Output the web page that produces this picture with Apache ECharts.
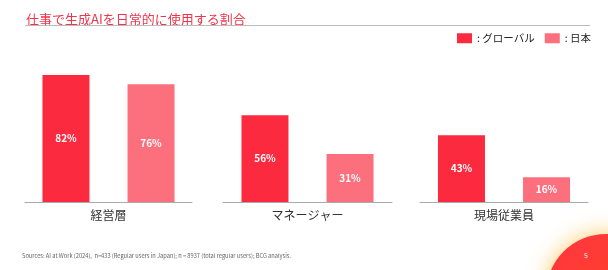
<!DOCTYPE html>
<html><head><meta charset="utf-8">
<script src="https://cdn.jsdelivr.net/npm/echarts@6/dist/echarts.min.js"></script>
<style>html,body{margin:0;padding:0;background:#fff}#c{width:608px;height:270px}</style>
</head><body><div id="c"></div>
<script>
const categories = ['経営層', 'マネージャー', '現場従業員'];
const globalValues = [82, 56, 43];
const japanValues = [76, 31, 16];
const seriesNames = [': グローバル', ': 日本'];
const colors = ['#FC2A3E', '#FC6F7C'];

const FONT = '"Noto Sans CJK JP", "Noto Sans", sans-serif';
const gridLefts = [25, 223, 420];
const gridWidths = [167, 169, 168];

const grids = [], xAxes = [], yAxes = [], series = [];
categories.forEach((cat, i) => {
  grids.push({left: gridLefts[i], width: gridWidths[i], top: 47, bottom: 68});
  xAxes.push({
    type: 'category', gridIndex: i, data: [cat],
    axisLine: {lineStyle: {color: '#aaaaaa', width: 1}},
    axisTick: {show: false},
    axisLabel: {color: '#333', fontSize: 12, margin: 7, fontFamily: FONT}
  });
  yAxes.push({type: 'value', gridIndex: i, min: 0, max: 100, show: false, splitLine: {show: false}});
  [globalValues, japanValues].forEach((vals, k) => {
    series.push({
      type: 'bar', name: seriesNames[k], xAxisIndex: i, yAxisIndex: i,
      data: [vals[i]], barWidth: 47, barGap: '81%',
      itemStyle: {color: colors[k]},
      label: {show: true, position: 'inside', color: '#fff', fontSize: 10, fontWeight: 'bold',
              fontFamily: FONT, formatter: p => p.value + '%'}
    });
  });
});

const chart = echarts.init(document.getElementById('c'), null, {renderer: 'canvas'});
chart.setOption({
  animation: false,
  color: colors,
  title: {text: '仕事で生成AIを日常的に使用する割合', left: 21, top: 8,
          textStyle: {color: '#F0344A', fontSize: 13, fontWeight: 'normal', fontFamily: FONT}},
  legend: {data: seriesNames, orient: 'horizontal', left: 452, top: 28, width: 160,
           itemWidth: 15, itemHeight: 10, itemGap: 10,
           icon: 'rect', textStyle: {color: '#222', fontSize: 10.5, fontFamily: FONT}},
  grid: grids, xAxis: xAxes, yAxis: yAxes, series: series,
  graphic: [
    {type: 'rect', z: 10, shape: {x: 25, y: 25, width: 565, height: 1}, style: {fill: '#bbbbbb'}},
    {type: 'circle', z: 1, shape: {cx: 606, cy: 294, r: 60},
     style: {fill: {type: 'linear', x: 0, y: 0, x2: 1, y2: 1,
                    colorStops: [{offset: 0, color: '#FF3540'}, {offset: 1, color: '#FF4A1E'}]},
             shadowBlur: 22, shadowColor: 'rgba(255,200,90,0.95)'}},
    {type: 'text', z: 10, left: 22, top: 253,
     style: {text: 'Sources: AI at Work (2024),  n=433 (Regular users in Japan); n = 8937 (total regular users); BCG analysis.',
             fill: '#666', fontSize: 5.7, fontFamily: FONT}},
    {type: 'text', z: 10, left: 584, top: 252, style: {text: '5', fill: '#fff', fontSize: 7, fontFamily: FONT}}
  ]
});
</script></body></html>
